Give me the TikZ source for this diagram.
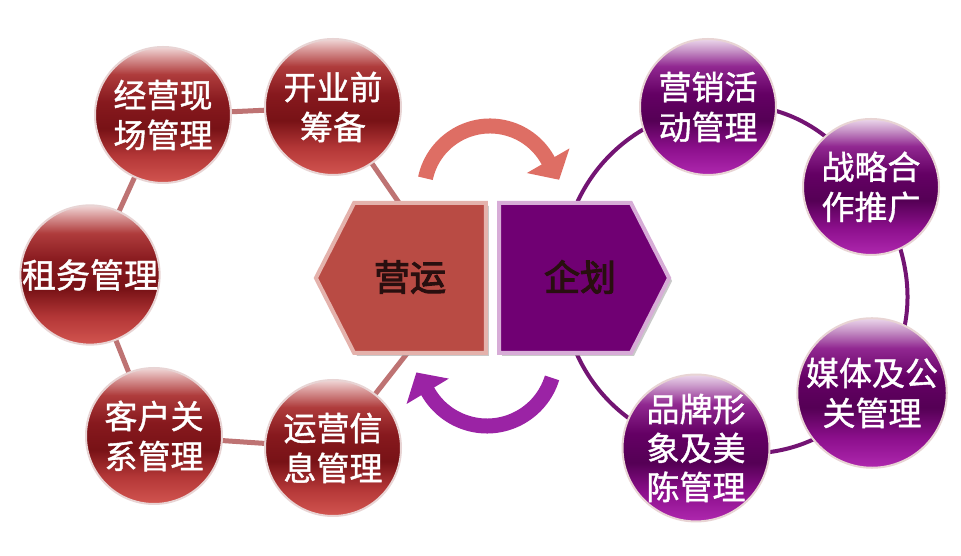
\documentclass[tikz,border=0pt]{standalone}
\usepackage{fontspec}
\newfontfamily\cjk{Noto Sans CJK SC}[FakeBold=1.2]
\newfontfamily\cjkB{Noto Sans CJK SC}[FakeBold=3]
\usetikzlibrary{shapes.symbols,shadows,arrows.meta}
\definecolor{rbA}{RGB}{210,85,80}
\definecolor{rbB}{RGB}{180,55,55}
\definecolor{rbC}{RGB}{120,18,22}
\definecolor{rbD}{RGB}{135,25,30}
\definecolor{rbE}{RGB}{175,60,60}
\definecolor{rbF}{RGB}{215,150,150}
\definecolor{rbG}{RGB}{240,215,215}
\definecolor{pbA}{RGB}{175,40,175}
\definecolor{pbB}{RGB}{140,15,140}
\definecolor{pbC}{RGB}{85,0,85}
\definecolor{pbD}{RGB}{100,0,100}
\definecolor{pbE}{RGB}{145,40,145}
\definecolor{pbF}{RGB}{200,150,200}
\definecolor{pbG}{RGB}{235,215,235}
\definecolor{arrred}{RGB}{222,110,100}
\definecolor{arrpurp}{RGB}{155,35,165}
\definecolor{hexredc}{RGB}{185,75,68}
\definecolor{hexredrim}{RGB}{228,178,172}
\definecolor{hexpurpc}{RGB}{112,0,115}
\definecolor{hexpurprim}{RGB}{215,172,215}
\definecolor{lringc}{RGB}{190,115,115}
\definecolor{rringc}{RGB}{115,20,115}
\definecolor{ballrim}{RGB}{232,212,212}
\definecolor{hextxt}{RGB}{40,15,15}
\pgfdeclareverticalshading{redball}{100bp}{color(0bp)=(rbA); color(25bp)=(rbA); color(35bp)=(rbB); color(45bp)=(rbC); color(55bp)=(rbD); color(65bp)=(rbE); color(71bp)=(rbF); color(75bp)=(rbG); color(100bp)=(rbG)}
\pgfdeclareverticalshading{purpball}{100bp}{color(0bp)=(pbA); color(25bp)=(pbA); color(35bp)=(pbB); color(45bp)=(pbC); color(55bp)=(pbD); color(65bp)=(pbE); color(71bp)=(pbF); color(75bp)=(pbG); color(100bp)=(pbG)}
\pgfdeclarelayer{background}
\pgfdeclarelayer{canvas}
\pgfsetlayers{canvas,background,main}
\begin{document}
\begin{tikzpicture}[x=1pt,y=1pt,
  bubble/.style={circle, minimum size=136pt, inner sep=0pt, draw=ballrim, line width=2pt,
    text=white, font=\cjk\fontsize{33}{40}\selectfont, align=center},
  redbubble/.style={bubble, shading=redball},
  purpbubble/.style={bubble, shading=purpball},
  lring/.style={line width=5pt, draw=lringc},
  rring/.style={line width=4pt, draw=rringc},
  flow/.style={line width=15pt, -{Triangle[width=48pt,length=22pt]}},
  hexbase/.style={signal, signal from=nowhere, signal pointer angle=126,
    minimum width=170pt, minimum height=150pt, inner sep=0pt, line width=4pt,
    drop shadow={shadow xshift=3pt, shadow yshift=-3pt, fill=black!35, opacity=0.6}},
  hexred/.style={hexbase, signal to=west, fill=hexredc, draw=hexredrim},
  hexpurp/.style={hexbase, signal to=east, fill=hexpurpc, draw=hexpurprim},
  hextext/.style={text=hextxt, font=\cjkB\fontsize{36}{40}\selectfont, inner sep=0pt}
]
\begin{pgfonlayer}{canvas}
\fill[white] (0,0) rectangle (961,556);
\end{pgfonlayer}
\useasboundingbox (0,0) rectangle (961,556);

% central hexagons
\node[hexred] (yyhex) at (420,278) {};
\node[hexpurp] (qhhex) at (565,278) {};
\node[hextext] (yy) at (410,279) {营运};
\node[hextext] (qh) at (580,279) {企划};

% ring anchor points hidden inside the hexagons
\coordinate (yyT) at (435,301);
\coordinate (yyB) at (445,251);
\coordinate (rL) at (561,278);

% curved flow arrows
\draw[flow, draw=arrred] (490,364) ++(168:66) arc[start angle=168, end angle=30, radius=66] -- ++(300:24);
\draw[flow, draw=arrpurp] (487,198) ++(343:68) arc[start angle=343, end angle=211, radius=68] -- ++(121:24);

% left circles
\node[redbubble] (jy) at (163,441) {经营现\\场管理};
\node[redbubble] (ky) at (333,449) {开业前\\筹备};
\node[redbubble, font=\cjk\fontsize{34}{40}\selectfont] (zw) at (90,281) {租务管理};
\node[redbubble] (kh) at (154,120) {客户关\\系管理};
\node[redbubble] (yx) at (333,108) {运营信\\息管理};

% right circles
\node[purpbubble] (yxh) at (708,449) {营销活\\动管理};
\node[purpbubble] (zl) at (871,369) {战略合\\作推广};
\node[purpbubble] (mt) at (872,163) {媒体及公\\关管理};
\node[purpbubble, font=\cjk\fontsize{33}{39}\selectfont] (pp) at (696,108) {品牌形\\象及美\\陈管理};

\begin{pgfonlayer}{background}
  \draw[lring] (ky.center) -- (yyT);
  \draw[lring] (jy.center) -- (ky.center);
  \draw[lring] (jy.center) -- (zw.center);
  \draw[lring] (zw.center) -- (kh.center);
  \draw[lring] (kh.center) -- (yx.center);
  \draw[lring] (yx.center) -- (yyB);
  \draw[rring] (rL) to[out=90, in=188.3] (yxh.center);
  \draw[rring] (yxh.center) to[out=8.3, in=123.4] (zl.center);
  \draw[rring] (zl.center) to[out=303.4, in=50.4] (mt.center);
  \draw[rring] (mt.center) to[out=230.4, in=347.7] (pp.center);
  \draw[rring] (pp.center) to[out=167.7, in=270] (rL);
\end{pgfonlayer}
\end{tikzpicture}
\end{document}
